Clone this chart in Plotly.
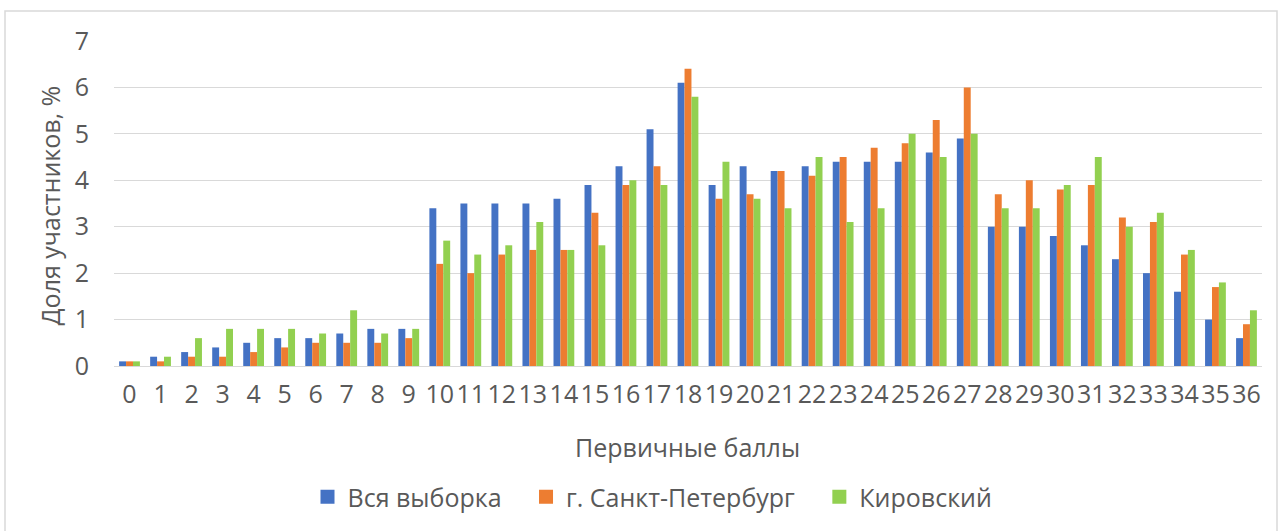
import plotly.graph_objects as go

categories = [str(i) for i in range(37)]

vsya = [0.1, 0.2, 0.3, 0.4, 0.5, 0.6, 0.6, 0.7, 0.8, 0.8,
        3.4, 3.5, 3.5, 3.5, 3.6, 3.9, 4.3, 5.1, 6.1, 3.9,
        4.3, 4.2, 4.3, 4.4, 4.4, 4.4, 4.6, 4.9, 3.0, 3.0,
        2.8, 2.6, 2.3, 2.0, 1.6, 1.0, 0.6]
spb = [0.1, 0.1, 0.2, 0.2, 0.3, 0.4, 0.5, 0.5, 0.5, 0.6,
       2.2, 2.0, 2.4, 2.5, 2.5, 3.3, 3.9, 4.3, 6.4, 3.6,
       3.7, 4.2, 4.1, 4.5, 4.7, 4.8, 5.3, 6.0, 3.7, 4.0,
       3.8, 3.9, 3.2, 3.1, 2.4, 1.7, 0.9]
kirov = [0.1, 0.2, 0.6, 0.8, 0.8, 0.8, 0.7, 1.2, 0.7, 0.8,
         2.7, 2.4, 2.6, 3.1, 2.5, 2.6, 4.0, 3.9, 5.8, 4.4,
         3.6, 3.4, 4.5, 3.1, 3.4, 5.0, 4.5, 5.0, 3.4, 3.4,
         3.9, 4.5, 3.0, 3.3, 2.5, 1.8, 1.2]

series_names = ["Вся выборка", "г. Санкт-Петербург", "Кировский"]
colors = ["#4472C4", "#ED7D31", "#92D050"]
y_ticks = [0, 1, 2, 3, 4, 5, 6, 7]

FONT = "Open Sans"
TXT = "#595959"
FS = 25

fig = go.Figure()
for name, vals, col in zip(series_names, [vsya, spb, kirov], colors):
    fig.add_trace(go.Bar(x=categories, y=vals, name=name, showlegend=False,
                         marker=dict(color=col, line=dict(width=0))))
# legend entries with square swatches
for name, col in zip(series_names, colors):
    fig.add_trace(go.Scatter(x=[None], y=[None], mode="markers",
                             name=name + "\u00a0\u00a0\u00a0",
                             marker=dict(symbol="square", size=14, color=col),
                             showlegend=True))

W, H = 1281, 531
L, R, T, B = 114, 19, 41, 164
pw, ph = W - L - R, H - T - B

def px(x):
    return (x - L) / pw

def py(y):
    return (H - B - y) / ph

fig.update_layout(
    width=W, height=H,
    margin=dict(l=L, r=R, t=T, b=B),
    paper_bgcolor="white", plot_bgcolor="white",
    barmode="group", bargap=0.33, bargroupgap=0,
    font=dict(family=FONT, color=TXT, size=FS),
    showlegend=True,
    legend=dict(orientation="h", x=px(662), xanchor="center",
                y=py(497), yanchor="middle",
                font=dict(family=FONT, size=FS, color=TXT),
                itemwidth=30, tracegroupgap=0),
    xaxis=dict(type="category", tickmode="array", tickvals=categories,
               ticktext=categories, showgrid=False, showline=True,
               linecolor="#D9D9D9", linewidth=1, ticks="",
               tickfont=dict(family=FONT, size=FS, color=TXT),
               ticklabelstandoff=6, fixedrange=True),
    yaxis=dict(range=[0, 7], tickmode="array", tickvals=y_ticks,
               showgrid=True, gridcolor="#D9D9D9", gridwidth=1,
               zeroline=True, zerolinecolor="#D9D9D9", zerolinewidth=1,
               showline=False, ticks="",
               tickfont=dict(family=FONT, size=FS, color=TXT),
               ticklabelstandoff=24, fixedrange=True),
    annotations=[
        dict(text="Доля участников, %", xref="paper", yref="paper",
             x=px(50), y=py(206), xanchor="center", yanchor="middle",
             textangle=-90, showarrow=False,
             font=dict(family=FONT, size=FS, color=TXT)),
        dict(text="Первичные баллы", xref="paper", yref="paper",
             x=px(687), y=py(448), xanchor="center", yanchor="middle",
             showarrow=False, font=dict(family=FONT, size=FS, color=TXT)),
    ],
    shapes=[dict(type="rect", xref="paper", yref="paper",
                 x0=px(5), x1=px(1277), y0=py(545), y1=py(11),
                 line=dict(color="#D9D9D9", width=1.5), layer="below")],
)

fig.write_html("out.html", config={"displayModeBar": False},
               post_script="document.body.style.margin='0';document.body.style.overflow='hidden';")
